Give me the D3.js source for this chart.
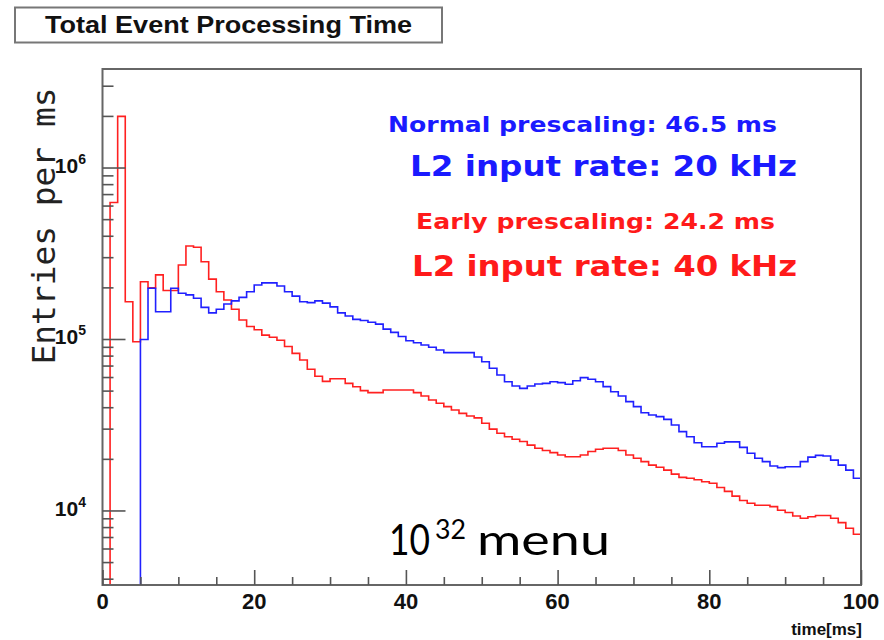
<!DOCTYPE html>
<html>
<head>
<meta charset="utf-8">
<script src="https://cdn.jsdelivr.net/npm/d3@7"></script>
<style>
  body { margin: 0; background: #fff; }
  svg text { font-family: "Liberation Sans", Arial, sans-serif; }
</style>
</head>
<body>
<div id="chart"></div>
<script>
// 1 ms bins from 0 to 100 ms, entries per ms
const binWidth = 1;
const xTicks = [0, 20, 40, 60, 80, 100];
const yDecades = [4, 5, 6];

// blue: normal prescaling (mean 46.5 ms)
const normalVals = [0, 0, 0, 0, 0, 100000, 199000, 145000, 145000, 199000,
  186000, 182000, 174000, 154000, 143000, 150000, 161000, 168000, 176000, 190000,
  208000, 214000, 214000, 205000, 190000, 179000, 166000, 164000, 168000, 163000,
  155000, 143000, 137000, 131000, 129000, 126000, 123000, 115000, 110000, 104000,
  98400, 95800, 92900, 90100, 86900, 83800, 83800, 83800, 83800, 79100,
  74200, 67900, 62100, 56700, 53600, 51900, 53600, 55000, 55500, 56700,
  56000, 54800, 57500, 59900, 58600, 56700, 53100, 49600, 46800, 43400,
  40600, 37400, 36300, 35500, 34200, 31700, 29000, 27100, 25000, 23700,
  23700, 24800, 25300, 25300, 23500, 21700, 20300, 19400, 18300, 17900,
  18100, 18100, 19400, 20600, 21100, 20900, 19800, 18500, 17300, 15500];

// red: early prescaling (mean 24.2 ms)
const earlyVals = [0, 630000, 2000000, 166000, 97000, 217000, 200000, 238000, 193000, 193000,
  272000, 351000, 345000, 284000, 225000, 190000, 170000, 150000, 130000, 119000,
  114000, 106000, 103000, 99000, 91000, 83000, 76000, 67000, 61000, 57000,
  59000, 59000, 55500, 53000, 50300, 49000, 49000, 50800, 50800, 50800,
  50800, 49000, 46800, 44400, 42500, 40600, 38800, 37100, 35800, 34900,
  32500, 30000, 28400, 27100, 26200, 25400, 24200, 23200, 22500, 21900,
  21200, 20700, 20700, 21200, 22200, 22900, 23200, 23200, 22500, 21200,
  20300, 19400, 18500, 18000, 17300, 16400, 15700, 15500, 15200, 14800,
  14500, 13700, 13000, 12200, 11500, 11100, 10800, 10800, 10600, 10100,
  9800, 9350, 9070, 9260, 9400, 9400, 9070, 8550, 7930, 7310];

const width = 884, height = 640;
const margin = {left: 102.5, right: 23, top: 69, bottom: 55};

const svg = d3.select("#chart").append("svg")
  .attr("width", width)
  .attr("height", height);

const x = d3.scaleLinear().domain([0, 100]).range([margin.left, width - margin.right]);
const y = d3.scaleLog().domain([3700, 3.78e6]).range([height - margin.bottom, margin.top]);

// title box
svg.append("rect")
  .attr("x", 15).attr("y", 7.5).attr("width", 427).attr("height", 35)
  .attr("fill", "#fff").attr("stroke", "#777").attr("stroke-width", 2);
svg.append("text")
  .attr("x", 228.5).attr("y", 32.5)
  .attr("text-anchor", "middle")
  .attr("font-weight", "bold").attr("font-size", 24)
  .attr("textLength", 367).attr("lengthAdjust", "spacingAndGlyphs")
  .attr("fill", "#111")
  .text("Total Event Processing Time");

// histogram outline, empty bins pinned to the bottom of the frame
const ymin = y.domain()[0];
const stepPoints = vals => {
  let pts = [];
  vals.forEach((v, i) => {
    let vv = v > ymin ? v : ymin;
    pts.push([i * binWidth, vv]);
    pts.push([(i + 1) * binWidth, vv]);
  });
  return pts;
};
const line = d3.line().x(d => x(d[0])).y(d => y(d[1]));

svg.append("path")
  .attr("d", line(stepPoints(earlyVals)))
  .attr("fill", "none").attr("stroke", "#ff2020").attr("stroke-width", 1.6);
svg.append("path")
  .attr("d", line(stepPoints(normalVals)))
  .attr("fill", "none").attr("stroke", "#2020ff").attr("stroke-width", 1.6);

// frame
svg.append("rect")
  .attr("x", x(0)).attr("y", y(3.78e6))
  .attr("width", x(100) - x(0)).attr("height", y(3700) - y(3.78e6))
  .attr("fill", "none").attr("stroke", "#666").attr("stroke-width", 2);

// x axis ticks
const xAxis = d3.axisBottom(x)
  .tickValues(d3.range(0, 101, 5))
  .tickSize(0)
  .tickFormat("");
const xg = svg.append("g").attr("transform", `translate(0,${y(3700)})`).call(xAxis);
xg.select(".domain").remove();
xg.selectAll(".tick line").remove();
xg.selectAll(".tick").append("line")
  .attr("y1", 0)
  .attr("y2", d => d % 20 === 0 ? -15 : -8)
  .attr("stroke", "#555").attr("stroke-width", 1.6);
svg.selectAll(".xlab")
  .data(xTicks)
  .join("text")
  .attr("class", "xlab")
  .attr("x", d => x(d))
  .attr("y", 609)
  .attr("text-anchor", "middle")
  .attr("font-weight", "bold").attr("font-size", 22)
  .attr("fill", "#111")
  .text(d => d);

// y axis ticks (log)
let yMinor = [];
[3, 4, 5, 6].forEach(e => {
  for (let m = 1; m < 10; m++) {
    let v = m * Math.pow(10, e);
    if (v >= 3700 && v <= 3.78e6) yMinor.push(v);
  }
});
svg.selectAll(".ytick")
  .data(yMinor)
  .join("line")
  .attr("class", "ytick")
  .attr("x1", x(0))
  .attr("x2", d => Math.abs(Math.log10(d) - Math.round(Math.log10(d))) < 1e-9 ? x(0) + 23 : x(0) + 11)
  .attr("y1", d => y(d)).attr("y2", d => y(d))
  .attr("stroke", "#555").attr("stroke-width", 1.6);

const ylab = svg.selectAll(".ylab")
  .data(yDecades)
  .join("text")
  .attr("class", "ylab")
  .attr("x", 86)
  .attr("y", d => y(Math.pow(10, d)) + 5)
  .attr("text-anchor", "end")
  .attr("font-weight", "bold").attr("font-size", 21)
  .attr("fill", "#111");
ylab.append("tspan").text("10");
ylab.append("tspan").attr("dy", -9).attr("font-size", 14).text(d => d);

// axis titles
svg.append("text")
  .attr("x", 862).attr("y", 635)
  .attr("text-anchor", "end")
  .attr("font-weight", "bold").attr("font-size", 17)
  .attr("fill", "#111")
  .text("time[ms]");

svg.append("text")
  .attr("transform", "translate(55,226) rotate(-90)")
  .attr("text-anchor", "middle")
  .style("font-family", "'DejaVu Sans Mono', monospace")
  .attr("font-size", 32)
  .attr("textLength", 277).attr("lengthAdjust", "spacingAndGlyphs")
  .attr("fill", "#222")
  .text("Entries per ms");

// annotations
const notes = [
  {t: "Normal prescaling: 46.5 ms", x: 388, y: 132, w: 389, s: 22, c: "#1a1aff"},
  {t: "L2 input rate: 20 kHz", x: 410, y: 176, w: 387, s: 29, c: "#1a1aff"},
  {t: "Early prescaling: 24.2 ms", x: 416, y: 229, w: 359, s: 22, c: "#ff1a1a"},
  {t: "L2 input rate: 40 kHz", x: 412, y: 276, w: 385, s: 29, c: "#ff1a1a"}
];
svg.selectAll(".note")
  .data(notes)
  .join("text")
  .attr("class", "note")
  .attr("x", d => d.x).attr("y", d => d.y)
  .style("font-family", "'DejaVu Sans', Verdana, sans-serif")
  .attr("font-weight", "bold")
  .attr("font-size", d => d.s)
  .attr("textLength", d => d.w).attr("lengthAdjust", "spacingAndGlyphs")
  .attr("fill", d => d.c)
  .text(d => d.t);

// "10^32 menu" luminosity label
const menuParts = [
  {t: "10", x: 389, y: 555, s: 42, w: 41},
  {t: "32", x: 435, y: 539, s: 26, w: 31},
  {t: "menu", x: 477, y: 555, s: 43, w: 133}
];
svg.selectAll(".menu")
  .data(menuParts)
  .join("text")
  .attr("class", "menu")
  .attr("x", d => d.x).attr("y", d => d.y)
  .style("font-family", "Lato, 'Open Sans', sans-serif")
  .attr("font-size", d => d.s)
  .attr("textLength", d => d.w).attr("lengthAdjust", "spacingAndGlyphs")
  .attr("fill", "#000")
  .text(d => d.t);
</script>
</body>
</html>
